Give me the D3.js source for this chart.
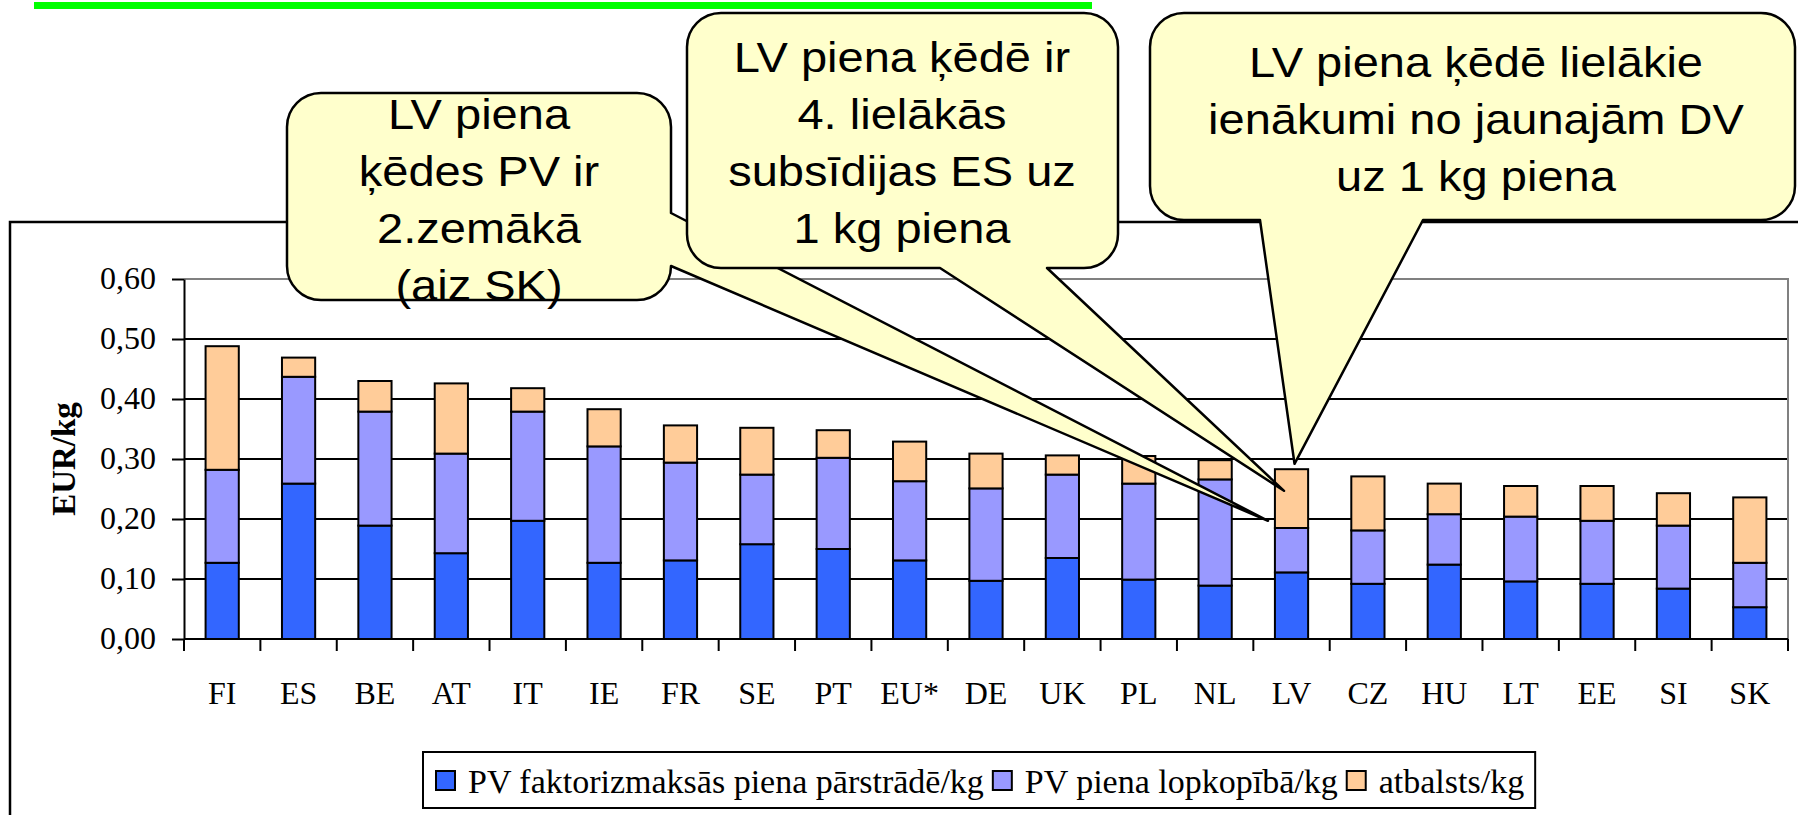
<!DOCTYPE html>
<html>
<head>
<meta charset="utf-8">
<script src="https://cdn.jsdelivr.net/npm/d3@7"></script>
<style>
  body { margin: 0; background: #fff; }
  svg { display: block; }
</style>
</head>
<body>
<div class="chart"></div>
<script>
// --- data ---
const categories = ['FI', 'ES', 'BE', 'AT', 'IT', 'IE', 'FR', 'SE', 'PT', 'EU*', 'DE', 'UK', 'PL', 'NL', 'LV', 'CZ', 'HU', 'LT', 'EE', 'SI', 'SK'];
const processing = [0.127, 0.259, 0.189, 0.143, 0.197, 0.127, 0.131, 0.158, 0.150, 0.131, 0.097, 0.135, 0.099, 0.089, 0.111, 0.092, 0.124, 0.096, 0.092, 0.084, 0.053];
const farming = [0.155, 0.178, 0.190, 0.166, 0.182, 0.194, 0.163, 0.116, 0.152, 0.132, 0.154, 0.139, 0.160, 0.177, 0.074, 0.089, 0.084, 0.108, 0.105, 0.105, 0.074];
const support = [0.206, 0.032, 0.051, 0.117, 0.039, 0.062, 0.062, 0.078, 0.046, 0.066, 0.058, 0.032, 0.046, 0.032, 0.098, 0.090, 0.051, 0.051, 0.058, 0.054, 0.109];
const seriesNames = ['PV faktorizmaksās piena pārstrādē/kg', 'PV piena lopkopībā/kg', 'atbalsts/kg'];
const yTicks = [0, 0.1, 0.2, 0.3, 0.4, 0.5, 0.6];
const yTitle = 'EUR/kg';

const note1 = ['LV piena', 'ķēdes PV ir', '2.zemākā', '(aiz SK)'];
const note2 = ['LV piena ķēdē ir', '4. lielākās', 'subsīdijas ES uz', '1 kg piena'];
const note3 = ['LV piena ķēdē lielākie', 'ienākumi no jaunajām DV', 'uz 1 kg piena'];
// where each pointer ends: category and value on the chart
const noteTargets = [['LV', 0.197], ['LV', 0.247], ['LV', 0.292]];

// --- layout ---
const width = 1798;
const height = 815;
const plot = { left: 184, right: 1788, top: 279, bottom: 639 };
const serif = '"Liberation Serif", "Times New Roman", serif';
const sans = '"Liberation Sans", Arial, sans-serif';

const color = {
  bars: ['#3366ff', '#9999ff', '#ffcc99'],
  note: '#ffffcc',
  green: '#00ff00',
  border: '#808080',
};

const locale = d3.formatLocale({ decimal: ',', thousands: ' ', grouping: [3], currency: ['', '€'] });
const fmt = locale.format('.2f');

const svg = d3.select('.chart')
  .append('svg')
    .attr('width', width)
    .attr('height', height)
    .attr('viewBox', [0, 0, width, height]);

// green rule at top and outer frame
svg.append('rect')
  .attr('x', 34).attr('y', 2)
  .attr('width', 1058).attr('height', 7)
  .attr('fill', color.green);

svg.append('rect')
  .attr('x', 10).attr('y', 222)
  .attr('width', 1800).attr('height', 700)
  .attr('fill', 'none')
  .attr('stroke', '#000')
  .attr('stroke-width', 2.5);

const x = d3.scaleBand()
  .domain(categories)
  .range([plot.left, plot.right])
  .paddingInner(0)
  .paddingOuter(0);

const y = d3.scaleLinear()
  .domain([0, 0.6])
  .range([plot.bottom, plot.top]);

// gridlines
svg.append('g')
  .selectAll('line')
  .data(yTicks.filter(d => d > 0 && d < 0.6))
  .join('line')
    .attr('x1', plot.left).attr('x2', plot.right)
    .attr('y1', d => y(d)).attr('y2', d => y(d))
    .attr('stroke', '#000')
    .attr('stroke-width', 2);

// plot area border (top + right, gray)
svg.append('path')
  .attr('d', `M${plot.left},${y(0.6)}H${plot.right}V${plot.bottom}`)
  .attr('fill', 'none')
  .attr('stroke', color.border)
  .attr('stroke-width', 2);

// stacked bars
const rows = categories.map((c, i) => ({ cat: c, s0: processing[i], s1: farming[i], s2: support[i] }));
const stacked = d3.stack().keys(['s0', 's1', 's2'])(rows);
const barWidth = x.bandwidth() / 2.3;

svg.append('g')
  .selectAll('g')
  .data(stacked)
  .join('g')
    .attr('fill', (d, i) => color.bars[i])
  .selectAll('rect')
  .data(d => d)
  .join('rect')
    .attr('x', d => x(d.data.cat) + (x.bandwidth() - barWidth) / 2)
    .attr('y', d => y(d[1]))
    .attr('width', barWidth)
    .attr('height', d => y(d[0]) - y(d[1]))
    .attr('stroke', '#000')
    .attr('stroke-width', 2);

// y axis
const yAxis = svg.append('g')
  .attr('transform', `translate(${plot.left},0)`)
  .call(d3.axisLeft(y).tickValues(yTicks).tickSize(12).tickSizeOuter(0).tickPadding(16).tickFormat(fmt));
yAxis.select('.domain').attr('stroke', '#000').attr('stroke-width', 2);
yAxis.selectAll('.tick line').attr('stroke', '#000').attr('stroke-width', 2);
yAxis.selectAll('.tick text')
  .attr('font-family', serif)
  .attr('font-size', 32)
  .attr('fill', '#000')
  .attr('dy', '0.3em');

// x axis: ticks between categories, labels well below
svg.append('line')
  .attr('x1', plot.left).attr('x2', plot.right)
  .attr('y1', plot.bottom).attr('y2', plot.bottom)
  .attr('stroke', '#000').attr('stroke-width', 2);

const boundaries = categories.map(c => x(c)).concat([plot.right]);
svg.append('g')
  .selectAll('line')
  .data(boundaries)
  .join('line')
    .attr('x1', d => d).attr('x2', d => d)
    .attr('y1', plot.bottom).attr('y2', plot.bottom + 12)
    .attr('stroke', '#000')
    .attr('stroke-width', 2);

svg.append('g')
  .selectAll('text')
  .data(categories)
  .join('text')
    .attr('x', d => x(d) + x.bandwidth() / 2)
    .attr('y', 704)
    .attr('text-anchor', 'middle')
    .attr('font-family', serif)
    .attr('font-size', 32)
    .text(d => d);

svg.append('text')
  .attr('transform', `translate(75,${(plot.top + plot.bottom) / 2}) rotate(-90)`)
  .attr('text-anchor', 'middle')
  .attr('font-family', serif)
  .attr('font-weight', 'bold')
  .attr('font-size', 33)
  .text(yTitle);

// legend
const legend = svg.append('g');
const legendBox = legend.append('rect')
  .attr('x', 423).attr('y', 752)
  .attr('height', 56)
  .attr('fill', '#fff')
  .attr('stroke', '#000')
  .attr('stroke-width', 2);

let lx = 436;
seriesNames.forEach((name, i) => {
  legend.append('rect')
    .attr('x', lx).attr('y', 771)
    .attr('width', 19).attr('height', 19)
    .attr('fill', color.bars[i])
    .attr('stroke', '#000')
    .attr('stroke-width', 2);
  const t = legend.append('text')
    .attr('x', lx + 32).attr('y', 793)
    .attr('font-family', serif)
    .attr('font-size', 34)
    .text(name);
  lx += 32 + t.node().getComputedTextLength() + 9;
});
legendBox.attr('width', lx - 423 + 2);

// callouts
function calloutPath(box, base, tip) {
  const [x0, y0, x1, y1] = box;
  const r = 34;
  let p = `M${x0 + r},${y0}H${x1 - r}A${r},${r} 0 0 1 ${x1},${y0 + r}`;
  if (base.side === 'right') p += `V${base.from}L${tip[0]},${tip[1]}L${x1},${base.to}`;
  p += `V${y1 - r}A${r},${r} 0 0 1 ${x1 - r},${y1}`;
  if (base.side === 'bottom') p += `H${base.to}L${tip[0]},${tip[1]}L${base.from},${y1}`;
  p += `H${x0 + r}A${r},${r} 0 0 1 ${x0},${y1 - r}V${y0 + r}A${r},${r} 0 0 1 ${x0 + r},${y0}Z`;
  return p;
}

const callouts = [
  { lines: note1, box: [287, 93, 671, 300], base: { side: 'right', from: 213, to: 266 }, dx: -23.5, first: 129, cx: 479 },
  { lines: note2, box: [687, 13, 1118, 268], base: { side: 'bottom', from: 940, to: 1047 }, dx: -7.5, first: 71.5, cx: 902 },
  { lines: note3, box: [1150, 13, 1795, 220], base: { side: 'bottom', from: 1260, to: 1423 }, dx: 3, first: 77, cx: 1476 },
];

callouts.forEach((c, i) => {
  const [cat, val] = noteTargets[i];
  const tip = [x(cat) + x.bandwidth() / 2 + c.dx, y(val)];
  const g = svg.append('g');
  g.append('path')
    .attr('d', calloutPath(c.box, c.base, tip))
    .attr('fill', color.note)
    .attr('stroke', '#000')
    .attr('stroke-width', 2.5)
    .attr('stroke-linejoin', 'round');
  g.selectAll('text')
    .data(c.lines)
    .join('text')
      .attr('transform', (d, j) => `translate(${c.cx},${c.first + j * 57}) scale(1.12,1)`)
      .attr('text-anchor', 'middle')
      .attr('font-family', sans)
      .attr('font-size', 42)
      .text(d => d);
});
</script>
</body>
</html>
